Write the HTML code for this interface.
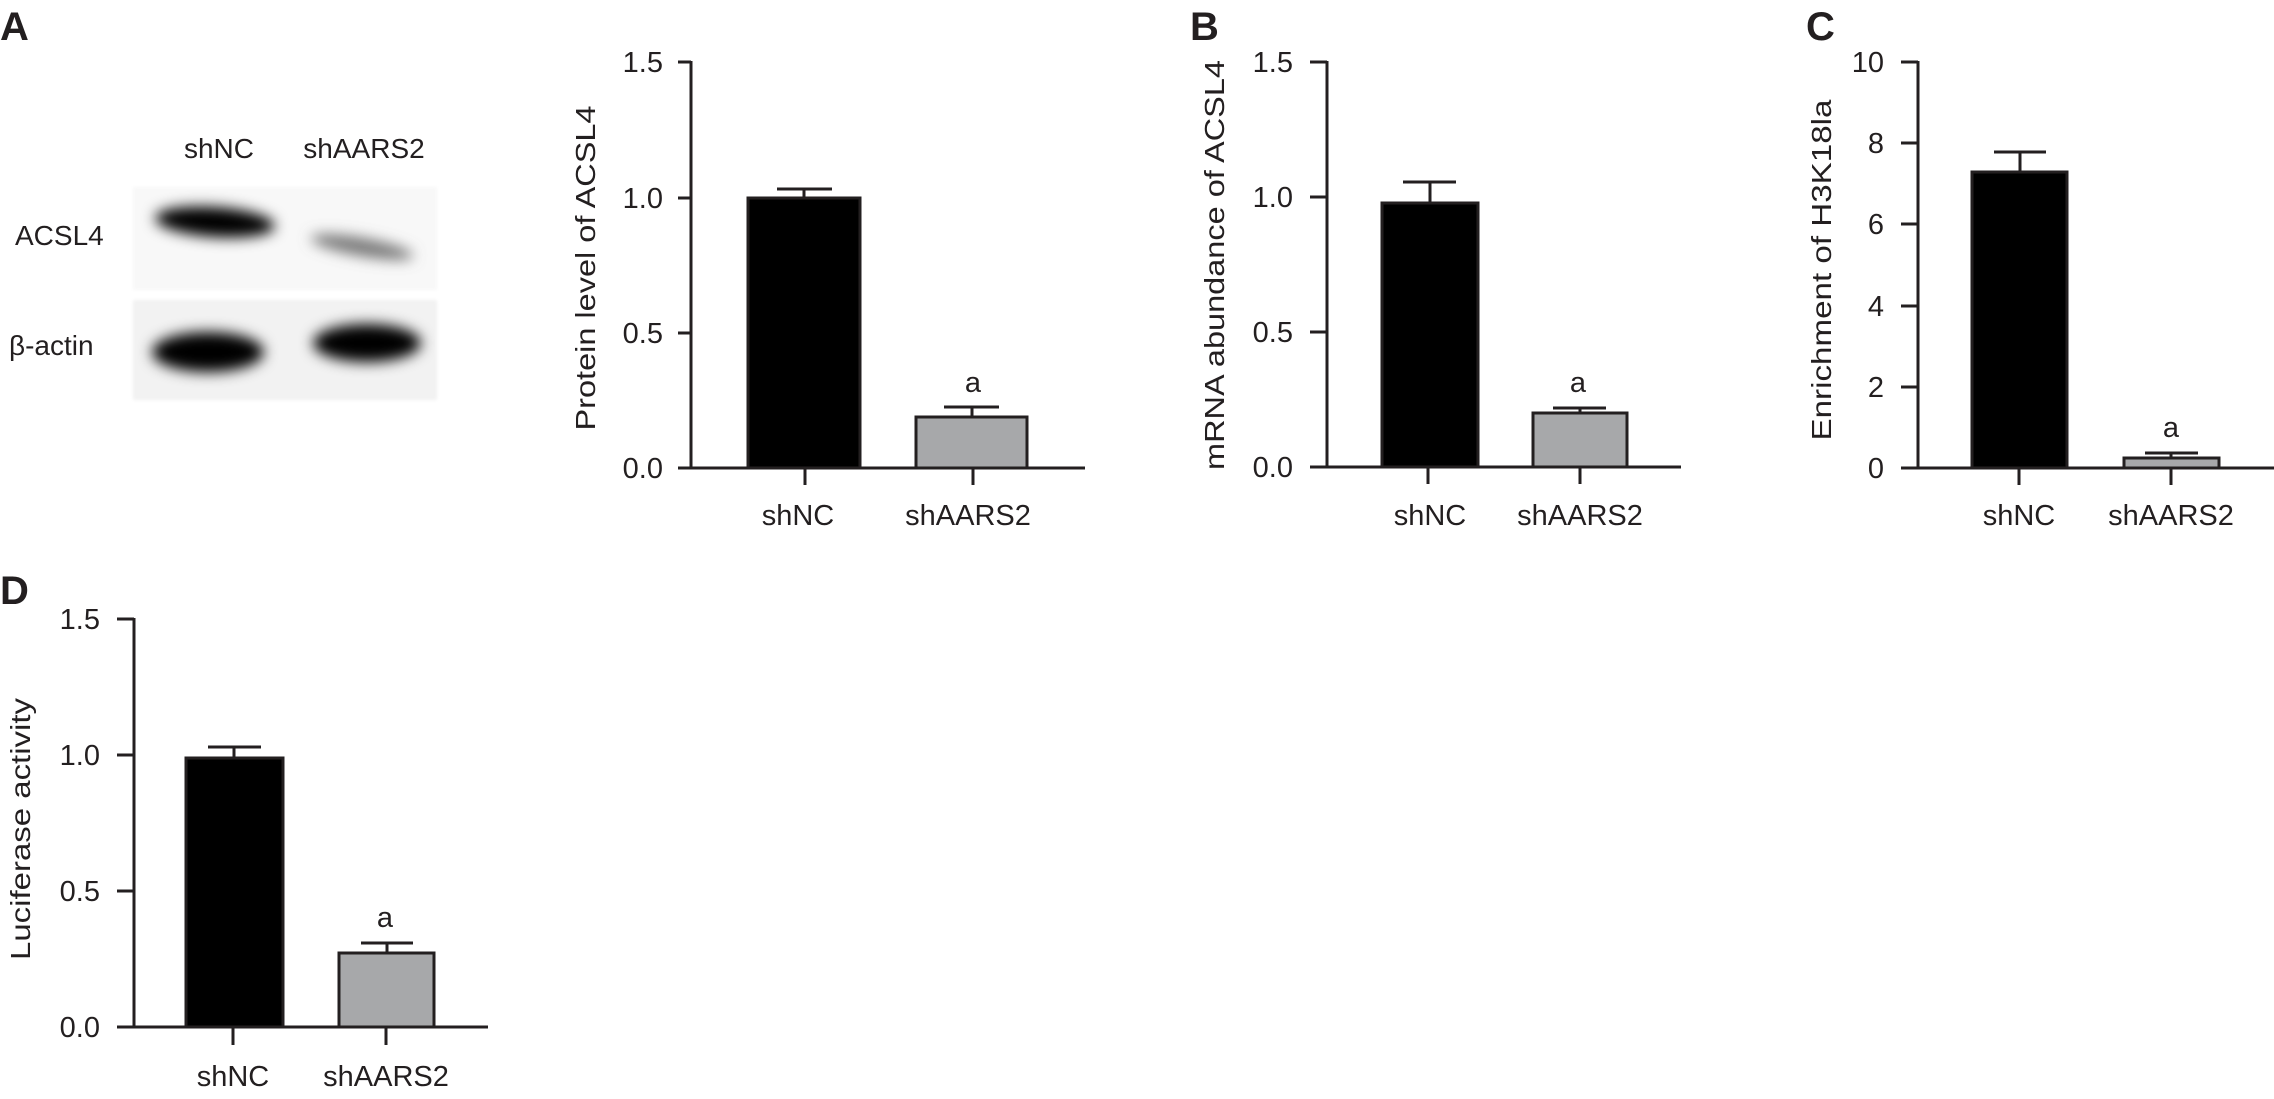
<!DOCTYPE html>
<html><head><meta charset="utf-8"><style>
html,body{margin:0;padding:0;background:#fff;}
svg{display:block;font-family:"Liberation Sans",sans-serif;fill:#231f20;}
</style></head><body>
<svg width="2274" height="1099" viewBox="0 0 2274 1099" xmlns="http://www.w3.org/2000/svg">
<defs>
<filter id="bl" x="-50%" y="-50%" width="200%" height="200%"><feGaussianBlur stdDeviation="7"/></filter>
<filter id="bl2" x="-50%" y="-50%" width="200%" height="200%"><feGaussianBlur stdDeviation="1.5"/></filter>
</defs>
<g font-weight="bold" font-size="40">
<text x="0" y="40">A</text>
<text x="1190" y="40">B</text>
<text x="1806" y="40">C</text>
<text x="0" y="604">D</text>
</g>
<!-- Blot -->
<g font-size="28">
<text x="219" y="158" text-anchor="middle">shNC</text>
<text x="364" y="158" text-anchor="middle">shAARS2</text>
<text x="15" y="245">ACSL4</text>
<text x="9" y="355">β-actin</text>
</g>
<rect x="133" y="187" width="304" height="103" fill="#f8f8f8" filter="url(#bl2)"/>
<rect x="133" y="300" width="304" height="100" fill="#f2f2f2" filter="url(#bl2)"/>
<g filter="url(#bl)">
<ellipse cx="215" cy="222" rx="60" ry="15" fill="#000" transform="rotate(4 215 222)"/>
<ellipse cx="362" cy="247" rx="52" ry="9" fill="#777" transform="rotate(10 362 247)"/>
<ellipse cx="208" cy="352" rx="56" ry="20" fill="#000"/>
<ellipse cx="367" cy="343" rx="54" ry="19" fill="#000"/>
</g>
<g stroke="#231f20" stroke-width="3" fill="none">
<!-- A chart -->
<path d="M691 61V468M678 62H691M678 198H691M678 333H691M678 468H691M678 468H1085M805 468V485M973 468V485"/>
<path d="M804 198V189M777 189H832M972 417V407M944 407H999"/>
<!-- B -->
<path d="M1327 61V467M1310 62H1327M1310 197H1327M1310 332H1327M1310 467H1327M1310 467H1681M1428 467V484M1580 467V484"/>
<path d="M1430 203V182M1403 182H1456M1580 413V408M1553 408H1606"/>
<!-- C -->
<path d="M1918 61V468M1901 62H1918M1901 143H1918M1901 224H1918M1901 306H1918M1901 387H1918M1901 468H1918M1901 468H2274M2019 468V485M2171 468V485"/>
<path d="M2020 172V152M1994 152H2046M2171 458V453M2145 453H2198"/>
<!-- D -->
<path d="M134 618V1027M117 619H134M117 755H134M117 891H134M117 1027H134M117 1027H488M233 1027V1045M386 1027V1045"/>
<path d="M234 758V747M208 747H261M387 953V943M361 943H413"/>
</g>
<g stroke="#231f20" stroke-width="3">
<rect x="748" y="198" width="112" height="270" fill="#000"/>
<rect x="916" y="417" width="111" height="51" fill="#a7a8aa"/>
<rect x="1382" y="203" width="96" height="264" fill="#000"/>
<rect x="1533" y="413" width="94" height="54" fill="#a7a8aa"/>
<rect x="1972" y="172" width="95" height="296" fill="#000"/>
<rect x="2124" y="458" width="95" height="10" fill="#a7a8aa"/>
<rect x="186" y="758" width="97" height="269" fill="#000"/>
<rect x="339" y="953" width="95" height="74" fill="#a7a8aa"/>
</g>
<g font-size="29" text-anchor="end">
<text x="663" y="72">1.5</text><text x="663" y="208">1.0</text><text x="663" y="343">0.5</text><text x="663" y="478">0.0</text>
<text x="1293" y="72">1.5</text><text x="1293" y="207">1.0</text><text x="1293" y="342">0.5</text><text x="1293" y="477">0.0</text>
<text x="1884" y="72">10</text><text x="1884" y="153">8</text><text x="1884" y="234">6</text><text x="1884" y="316">4</text><text x="1884" y="397">2</text><text x="1884" y="478">0</text>
<text x="100" y="629">1.5</text><text x="100" y="765">1.0</text><text x="100" y="901">0.5</text><text x="100" y="1037">0.0</text>
</g>
<g font-size="29" text-anchor="middle">
<text x="798" y="525">shNC</text><text x="968" y="525">shAARS2</text>
<text x="1430" y="525">shNC</text><text x="1580" y="525">shAARS2</text>
<text x="2019" y="525">shNC</text><text x="2171" y="525">shAARS2</text>
<text x="233" y="1086">shNC</text><text x="386" y="1086">shAARS2</text>
<text x="973" y="392">a</text><text x="1578" y="392">a</text><text x="2171" y="437">a</text><text x="385" y="927">a</text>
</g>
<g font-size="28" text-anchor="middle">
<text transform="translate(595 268) rotate(-90)" textLength="325" lengthAdjust="spacingAndGlyphs">Protein level of ACSL4</text>
<text transform="translate(1224 265) rotate(-90)" textLength="410" lengthAdjust="spacingAndGlyphs">mRNA abundance of ACSL4</text>
<text transform="translate(1831 270) rotate(-90)" textLength="341" lengthAdjust="spacingAndGlyphs">Enrichment of H3K18la</text>
<text transform="translate(30 829) rotate(-90)" textLength="262" lengthAdjust="spacingAndGlyphs">Luciferase activity</text>
</g>
</svg>
</body></html>
